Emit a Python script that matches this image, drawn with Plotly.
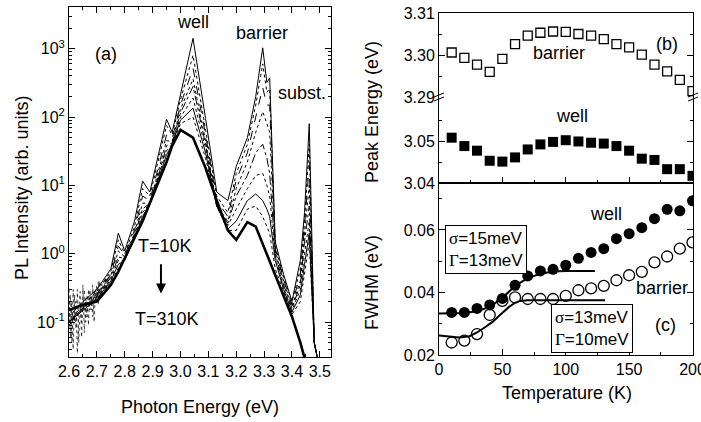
import plotly.graph_objects as go

# ---- panel (a): PL spectra, 10K (top) ... 310K (thick) ----
energy = [2.60, 2.65, 2.70, 2.75, 2.777, 2.80, 2.835, 2.864, 2.89, 2.925, 2.95, 2.97, 3.00, 3.045,
          3.09, 3.13, 3.17, 3.20, 3.24, 3.27, 3.295, 3.31, 3.32, 3.34, 3.37, 3.40, 3.43, 3.445,
          3.462, 3.48, 3.50]
pl_10K = [0.12, 0.2, 0.3, 0.6, 2.0, 1.1, 3.0, 11.6, 8, 35, 93, 60, 215, 1420, 95, 8, 6, 19, 50, 200,
          1030, 320, 375, 1.5, 0.5, 0.2, 0.8, 4, 80, 0.05, 0.02]
pl_30K = [0.1, 0.18, 0.28, 0.55, 1.6, 1.0, 2.5, 9, 7, 28, 75, 55, 180, 800, 70, 7, 4, 15, 40, 150,
          600, 230, 260, 1.3, 0.45, 0.2, 0.6, 3, 40, 0.05, 0.02]
pl_50K = [0.1, 0.17, 0.26, 0.5, 1.3, 0.95, 2.2, 7, 6, 22, 55, 48, 150, 520, 55, 6, 3.5, 12, 30, 100,
          270, 150, 150, 1.2, 0.42, 0.18, 0.5, 2.5, 20, 0.05, 0.02]
pl_70K = [0.09, 0.16, 0.25, 0.48, 1.1, 0.9, 2.0, 5.5, 5.5, 18, 45, 44, 130, 360, 45, 5, 3, 9, 22, 60,
          120, 80, 60, 1.1, 0.4, 0.17, 0.4, 2, 10, 0.05, 0.02]
pl_100K = [0.1, 0.16, 0.24, 0.45, 0.9, 0.85, 1.9, 4.5, 5.5, 16, 38, 42, 115, 280, 40, 5, 2.8, 7, 14,
           30, 40, 25, 15, 1.0, 0.35, 0.16, 0.35, 1.5, 5, 0.05, 0.02]
pl_150K = [0.1, 0.16, 0.23, 0.42, 0.8, 0.8, 1.8, 4, 5.5, 15, 32, 40, 100, 190, 35, 5, 2.6, 4.5, 9,
           14, 15, 10, 7, 0.9, 0.32, 0.15, 0.3, 1, 3, 0.05, 0.02]
pl_200K = [0.1, 0.15, 0.22, 0.4, 0.7, 0.8, 1.7, 3.5, 5.5, 14, 28, 40, 90, 135, 30, 5, 2.3, 3, 6,
           7.5, 6, 4.5, 3.5, 0.8, 0.3, 0.14, 0.25, 0.7, 2, 0.05, 0.02]
pl_250K = [0.1, 0.15, 0.21, 0.38, 0.62, 0.85, 1.7, 3.2, 5.5, 13, 25, 40, 80, 100, 25, 5, 2.2, 2.2,
           4.5, 5, 3.5, 2.5, 2, 0.6, 0.28, 0.13, 0.2, 0.5, 1.5, 0.05, 0.02]
pl_310K = [0.15, 0.18, 0.2, 0.35, 0.55, 0.85, 1.7, 3, 5.5, 12, 22, 38, 65, 50, 18, 6, 2.2, 1.6, 2.9,
           2.5, 1.4, 1.0, 0.8, 0.5, 0.25, 0.12, 0.05, 0.03, 0.02, 0.01, 0.01]

# noisy low-energy tails
noise_e = [2.600, 2.605, 2.610, 2.615, 2.620, 2.625, 2.630, 2.635, 2.640, 2.645, 2.650, 2.655, 2.660,
           2.665, 2.670, 2.675, 2.680, 2.685, 2.690, 2.695, 2.700, 2.705, 2.710, 2.715, 2.720, 2.725,
           2.730, 2.735, 2.740]
noise_a = [0.3, 0.06, 0.2, 0.04, 0.25, 0.08, 0.3, 0.05, 0.18, 0.1, 0.35, 0.07, 0.22, 0.12, 0.3, 0.15,
           0.25, 0.12, 0.3, 0.2, 0.35, 0.18, 0.4, 0.25, 0.35, 0.3, 0.45, 0.3, 0.5]
noise_b = [0.1, 0.25, 0.05, 0.3, 0.1, 0.2, 0.035, 0.15, 0.28, 0.06, 0.2, 0.3, 0.1, 0.25, 0.09, 0.3,
           0.15, 0.35, 0.1, 0.3, 0.2, 0.4, 0.22, 0.3, 0.25, 0.4, 0.3, 0.45, 0.35]

# ---- panels (b), (c) ----
temp = [10, 20, 30, 40, 50, 60, 70, 80, 90, 100, 110, 120, 130, 140, 150, 160, 170, 180, 190, 200]
peak_barrier = [3.3006, 3.2993, 3.2977, 3.2960, 3.2991, 3.3026, 3.3046, 3.3053, 3.3056, 3.3055,
                3.3050, 3.3046, 3.3038, 3.3026, 3.3018, 3.3001, 3.2977, 3.2961, 3.2941, 3.2914]
peak_well = [3.0508, 3.0488, 3.0477, 3.0453, 3.0451, 3.0461, 3.0480, 3.0492, 3.0498, 3.0502,
             3.0499, 3.0496, 3.0494, 3.0488, 3.0477, 3.0458, 3.0455, 3.0433, 3.0433, 3.0417]
fwhm_well = [0.0336, 0.0336, 0.0349, 0.0360, 0.0381, 0.0423, 0.0453, 0.0469, 0.0474, 0.0487,
             0.0509, 0.0528, 0.0540, 0.0572, 0.0588, 0.0607, 0.0636, 0.0666, 0.0661, 0.0693]
fwhm_barrier = [0.0240, 0.0246, 0.0267, 0.0328, 0.0373, 0.0384, 0.0379, 0.0379, 0.0379, 0.0389,
                0.0407, 0.0413, 0.0421, 0.0439, 0.0455, 0.0466, 0.0496, 0.0515, 0.0540, 0.0560]
fit_well_t = [0, 10, 20, 30, 40, 50, 60, 70, 80, 90, 100, 123]
fit_well = [0.0333, 0.0333, 0.0334, 0.0340, 0.0354, 0.0382, 0.0421, 0.0446, 0.0460, 0.0467, 0.0469, 0.0469]
fit_barrier_t = [0, 8, 16, 24, 30, 36, 42, 49, 55, 60, 64, 70, 131]
fit_barrier = [0.0262, 0.0258, 0.0256, 0.0260, 0.0272, 0.0288, 0.0305, 0.0331, 0.0353, 0.0367,
               0.0373, 0.0375, 0.0375]

FONT = "Liberation Sans, Arial, sans-serif"
W, H = 701, 422

fig = go.Figure()

spectra = [pl_10K, pl_30K, pl_50K, pl_70K, pl_100K, pl_150K, pl_200K, pl_250K]
dashes = ['solid', 'dot', 'dash', 'dot', 'dashdot', 'dot', 'solid', 'dot']
for s, d in zip(spectra, dashes):
    fig.add_trace(go.Scatter(x=energy, y=s, mode='lines', line=dict(color='black', width=1, dash=d),
                             xaxis='x', yaxis='y'))
for nz in (noise_a, noise_b):
    fig.add_trace(go.Scatter(x=noise_e, y=nz, mode='lines', line=dict(color='black', width=0.7, dash='dot'),
                             xaxis='x', yaxis='y'))
fig.add_trace(go.Scatter(x=energy, y=pl_310K, mode='lines', line=dict(color='black', width=2.6),
                         xaxis='x', yaxis='y'))

# (b) upper: barrier, lower: well
fig.add_trace(go.Scatter(x=temp, y=peak_barrier, mode='markers',
                         marker=dict(symbol='square-open', size=9, color='black', line=dict(width=1.3)),
                         xaxis='x2', yaxis='y2'))
fig.add_trace(go.Scatter(x=temp, y=peak_well, mode='markers',
                         marker=dict(symbol='square', size=10, color='black'),
                         xaxis='x3', yaxis='y3'))
# (c)
fig.add_trace(go.Scatter(x=fit_well_t, y=fit_well, mode='lines', line=dict(color='black', width=2),
                         xaxis='x4', yaxis='y4'))
fig.add_trace(go.Scatter(x=fit_barrier_t, y=fit_barrier, mode='lines', line=dict(color='black', width=2),
                         xaxis='x4', yaxis='y4'))
fig.add_trace(go.Scatter(x=temp, y=fwhm_well, mode='markers',
                         marker=dict(symbol='circle', size=11, color='black'),
                         xaxis='x4', yaxis='y4'))
fig.add_trace(go.Scatter(x=temp, y=fwhm_barrier, mode='markers',
                         marker=dict(symbol='circle-open', size=11, color='black', line=dict(width=1.3)),
                         xaxis='x4', yaxis='y4'))

ax_common = dict(showgrid=False, zeroline=False, linecolor='black', linewidth=1, ticks='inside',
                 tickcolor='black', ticklen=6, automargin=False,
                 tickfont=dict(family=FONT, size=16, color='black'))
minor_style = dict(ticks='inside', ticklen=3, tickcolor='black', showgrid=False)

# panel geometry (pixel frame -> paper fractions)
xa = [69 / W, 331 / W]
xb = [439 / W, 693 / W]
ya = [1 - 357 / H, 1 - 7 / H]
yc = [1 - 355 / H, 1 - 183 / H]
yb_lo = [1 - 183 / H, 1 - 97 / H]
yb_hi = [1 - 97 / H, 1 - 13 / H]

log_minor = [m * 10 ** p for p in range(-2, 4) for m in range(2, 10)]

fig.update_layout(
    width=W, height=H, margin=dict(l=0, r=0, t=0, b=0),
    paper_bgcolor='white', plot_bgcolor='white', showlegend=False,
    font=dict(family=FONT, color='black'),
    xaxis=dict(ax_common, domain=xa, range=[2.6, 3.54], dtick=0.1, tick0=2.6, tickformat='.1f',
               mirror='ticks', showline=True, anchor='y',
               minor=dict(minor_style, dtick=0.05)),
    yaxis=dict(ax_common, domain=ya, type='log', range=[-1.51, 3.61], mirror='ticks', showline=True,
               anchor='x', tickmode='array', tickvals=[0.1, 1, 10, 100, 1000],
               ticktext=['10<sup>-1</sup>', '10<sup>0</sup>', '10<sup>1</sup>', '10<sup>2</sup>', '10<sup>3</sup>'],
               minor=dict(minor_style, tickmode='array', tickvals=log_minor)),
    xaxis2=dict(ax_common, domain=xb, range=[0, 200.4], anchor='y2', side='top', showline=True,
                ticks='', showticklabels=False),
    yaxis2=dict(ax_common, domain=yb_hi, range=[3.29, 3.31], anchor='x2', mirror='ticks', showline=True,
                tickmode='array', tickvals=[3.29, 3.30, 3.31], tickformat='.2f',
                minor=dict(minor_style, tickmode='array', tickvals=[3.295, 3.305])),
    xaxis3=dict(ax_common, domain=xb, range=[0, 200.4], anchor='y3', showline=True, dtick=50,
                showticklabels=False, minor=dict(minor_style, dtick=25)),
    yaxis3=dict(ax_common, domain=yb_lo, range=[3.04, 3.0605], anchor='x3', mirror='ticks', showline=True,
                tickmode='array', tickvals=[3.04, 3.05], tickformat='.2f',
                minor=dict(minor_style, tickmode='array', tickvals=[3.045, 3.055])),
    xaxis4=dict(ax_common, domain=xb, range=[0, 200.4], anchor='y4', showline=True, dtick=50,
                mirror=True, ticklabeloverflow='allow', minor=dict(minor_style, dtick=25)),
    yaxis4=dict(ax_common, domain=yc, range=[0.02, 0.075], anchor='x4', mirror='ticks', showline=True,
                tickmode='array', tickvals=[0.02, 0.04, 0.06], tickformat='.2f',
                minor=dict(minor_style, tickmode='array', tickvals=[0.03, 0.05, 0.07])),
)

tf = dict(family=FONT, size=18, color='black')
notes = [
    dict(x=2.733, y=2.92, xref='x', yref='y', text='(a)'),
    dict(x=3.045, y=3.39, xref='x', yref='y', text='well'),
    dict(x=3.292, y=3.23, xref='x', yref='y', text='barrier'),
    dict(x=3.435, y=2.35, xref='x', yref='y', text='subst.'),
    dict(x=2.944, y=0.117, xref='x', yref='y', text='T=10K'),
    dict(x=2.95, y=-0.95, xref='x', yref='y', text='T=310K'),
    dict(x=94.5, y=3.3005, xref='x2', yref='y2', text='barrier'),
    dict(x=179.5, y=3.3026, xref='x2', yref='y2', text='(b)'),
    dict(x=105, y=3.056, xref='x3', yref='y3', text='well'),
    dict(x=132, y=0.065, xref='x4', yref='y4', text='well'),
    dict(x=175.6, y=0.0414, xref='x4', yref='y4', text='barrier'),
    dict(x=179, y=0.0295, xref='x4', yref='y4', text='(c)'),
]
for n in notes:
    fig.add_annotation(showarrow=False, font=tf, xanchor='center', yanchor='middle', **n)

# arrow T=10K -> T=310K
fig.add_annotation(x=2.93, y=-0.58, ax=2.93, ay=-0.13, xref='x', yref='y', axref='x', ayref='y',
                   text='', showarrow=True, arrowhead=2, arrowsize=1, arrowwidth=2, arrowcolor='black')

# fit-parameter boxes
sym = "<span style='font-family:Liberation Serif'>"
box_font = dict(family=FONT, size=17, color='black')
fig.add_annotation(x=37, y=0.0537, xref='x4', yref='y4', showarrow=False, align='left',
                   xanchor='center', yanchor='middle',
                   text=sym + 'σ</span>=15meV<br>' + sym + 'Γ</span>=13meV', font=box_font,
                   bordercolor='black', borderwidth=1, borderpad=3, bgcolor='white')
fig.add_annotation(x=120.5, y=0.0286, xref='x4', yref='y4', showarrow=False, align='left',
                   xanchor='center', yanchor='middle',
                   text=sym + 'σ</span>=13meV<br>' + sym + 'Γ</span>=10meV', font=box_font,
                   bordercolor='black', borderwidth=1, borderpad=3, bgcolor='white')

# axis titles
tt = dict(family=FONT, size=18, color='black')
titles = [
    (22, 188, 'PL Intensity (arb. units)', -90),
    (200, 407, 'Photon Energy (eV)', 0),
    (372, 112, 'Peak Energy (eV)', -90),
    (372, 283, 'FWHM (eV)', -90),
    (567, 393, 'Temperature (K)', 0),
]
for px, py, txt, ang in titles:
    fig.add_annotation(x=px / W, y=1 - py / H, xref='paper', yref='paper', text=txt, textangle=ang,
                       xanchor='center', yanchor='middle', showarrow=False, font=tt)

# axis-break marks on panel (b)
for xp in (xb[0], xb[1]):
    for dy in (-2, 2):
        yp = 1 - (97 + dy) / H
        fig.add_shape(type='line', xref='paper', yref='paper', x0=xp - 5 / W, x1=xp + 5 / W,
                      y0=yp - 2 / H, y1=yp + 2 / H, line=dict(color='black', width=1))

fig.write_html("out.html", config={'displayModeBar': False},
               post_script="document.body.style.margin='0';")
